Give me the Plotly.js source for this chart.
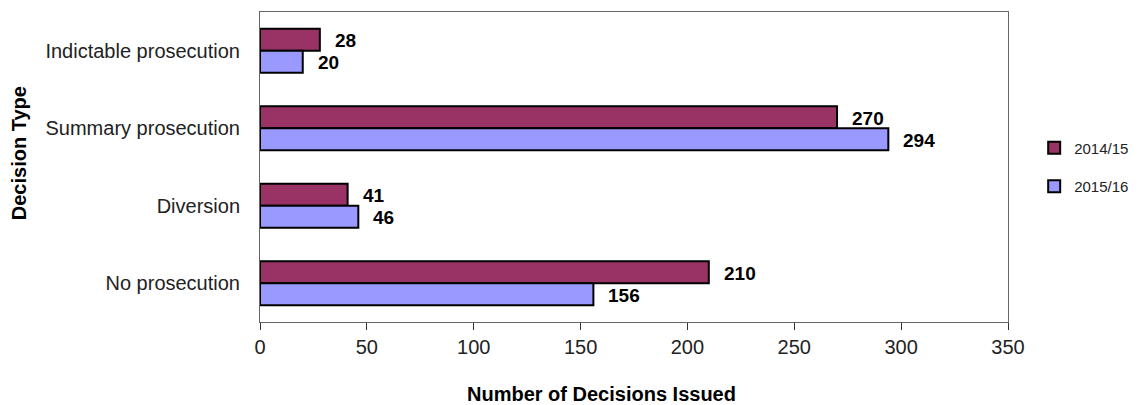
<!DOCTYPE html>
<html>
<head>
<meta charset="utf-8">
<script src="https://cdn.plot.ly/plotly-3.0.1.min.js"></script>
<style>html,body{margin:0;padding:0;background:#fff;}#chart{width:1142px;height:405px;}</style>
</head>
<body>
<div id="chart"></div>
<script>
const categories = ["Indictable prosecution", "Summary prosecution", "Diversion", "No prosecution"];
const seriesNames = ["2014/15", "2015/16"];
const values2014 = [28, 270, 41, 210];
const values2015 = [20, 294, 46, 156];
const xTicks = [0, 50, 100, 150, 200, 250, 300, 350];
const xTitle = "Number of Decisions Issued";
const yTitle = "Decision Type";

const colors = ["#993366", "#9999FF"];
const allValues = [values2014, values2015];
const bargap = 0.43;
const barW = (1 - bargap) / 2;

const traces = allValues.map((vals, i) => ({
  type: "bar",
  orientation: "h",
  name: seriesNames[i],
  x: vals,
  y: categories,
  legendgroup: "g" + i,
  marker: {color: colors[i], line: {color: "#000", width: 2}},
  hoverinfo: "x+name"
}));

const annotations = [];
allValues.forEach((vals, i) => {
  const off = (i === 0 ? -1 : 1) * barW / 2;
  vals.forEach((v, j) => {
    annotations.push({
      x: v, y: j + off, xref: "x", yref: "y",
      text: String(v), showarrow: false, xanchor: "left", yanchor: "middle",
      xshift: 13, yshift: -1,
      font: {family: "Liberation Sans, Arial, sans-serif", size: 19, color: "#000", weight: "bold"}
    });
  });
});

// axis titles placed as annotations (offset like the original)
annotations.push({
  xref: "paper", yref: "paper", x: 0.457, y: -0.232,
  xanchor: "center", yanchor: "middle", showarrow: false,
  text: "<b>" + xTitle + "</b>",
  font: {family: "Liberation Sans, Arial, sans-serif", size: 20, color: "#000"}
});
annotations.push({
  xref: "paper", yref: "paper", x: -0.322, y: 0.545,
  xanchor: "center", yanchor: "middle", showarrow: false, textangle: -90,
  text: "<b>" + yTitle + "</b>",
  font: {family: "Liberation Sans, Arial, sans-serif", size: 20, color: "#000"}
});

const layout = {
  width: 1142, height: 405,
  margin: {l: 260, r: 134, t: 12, b: 83, autoexpand: false},
  paper_bgcolor: "#fff", plot_bgcolor: "#fff",
  barmode: "group", bargap: bargap, bargroupgap: 0,
  font: {family: "Liberation Sans, Arial, sans-serif", size: 16, color: "#222"},
  xaxis: {
    range: [0, 350], tickvals: xTicks, ticktext: xTicks.map(String),
    ticks: "outside", ticklen: 7, tickcolor: "#333", tickwidth: 1,
    showgrid: false, zeroline: false,
    showline: true, linecolor: "#666", linewidth: 1, mirror: true,
    tickfont: {size: 20, color: "#222"}
  },
  yaxis: {
    type: "category", autorange: "reversed",
    categoryorder: "array", categoryarray: categories,
    showgrid: false, zeroline: false,
    showline: true, linecolor: "#666", linewidth: 1, mirror: true,
    ticks: "", ticklabelstandoff: 15,
    tickfont: {size: 20, color: "#222"}
  },
  legend: {
    x: 1.035, y: 0.5, xanchor: "left", yanchor: "middle",
    font: {size: 15, color: "#222"}, tracegroupgap: 16,
    bgcolor: "rgba(0,0,0,0)", borderwidth: 0
  },
  annotations: annotations,
  showlegend: true
};

Plotly.newPlot("chart", traces, layout, {displayModeBar: false, staticPlot: true});
</script>
</body>
</html>
